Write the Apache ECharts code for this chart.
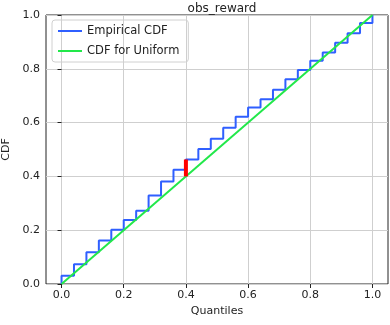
<!DOCTYPE html>
<html>
<head>
<meta charset="utf-8">
<script src="https://cdn.jsdelivr.net/npm/echarts@6/dist/echarts.min.js"></script>
<style>
  html, body { margin: 0; padding: 0; background: #fff; }
  #chart { width: 390px; height: 325px; }
</style>
</head>
<body>
<div id="chart"></div>
<script>
  // empirical cdf, one level after each quantile step
  const quantiles = [0, 0.04, 0.08, 0.12, 0.16, 0.20, 0.24, 0.28, 0.32, 0.36, 0.40, 0.44, 0.48,
    0.52, 0.56, 0.60, 0.64, 0.68, 0.72, 0.76, 0.80, 0.84, 0.88, 0.92, 0.96, 1.0]
  const ecdf = [0.031, 0.073, 0.118, 0.162, 0.202, 0.238, 0.272, 0.329, 0.381, 0.425, 0.463, 0.502, 0.540,
    0.581, 0.622, 0.656, 0.687, 0.722, 0.761, 0.796, 0.830, 0.861, 0.897, 0.932, 0.970, 1.0]
  const uniform = [[0, 0], [1, 1]]
  const maxGap = [[0.4, 0.4], [0.4, 0.463]]
  const xTicks = [0, 0.2, 0.4, 0.6, 0.8, 1.0]

  const font = 'DejaVu Sans'
  const stepData = [[0, 0]]
  quantiles.forEach((q, i) => stepData.push([q, ecdf[i]]))

  const chart = echarts.init(document.getElementById('chart'))
  chart.setOption({
    animation: false,
    title: {
      text: 'obs_reward',
      left: 217,
      textAlign: 'center',
      top: -2,
      textStyle: { fontFamily: font, fontSize: 12, fontWeight: 'normal', color: '#222' }
    },
    grid: {
      left: 46,
      right: 2,
      top: 15,
      bottom: 41,
      outerBoundsMode: 'none',
      containLabel: false,
      show: true,
      borderColor: '#222',
      borderWidth: 1
    },
    legend: {
      orient: 'vertical',
      left: 52,
      top: 20,
      padding: [5, 9, 5, 6],
      itemGap: 8,
      itemWidth: 24,
      itemHeight: 2,
      icon: 'rect',
      borderColor: '#d0d0d0',
      borderWidth: 1,
      borderRadius: 3,
      textStyle: { fontFamily: font, fontSize: 11.5, color: '#222' },
      data: ['Empirical CDF', 'CDF for Uniform']
    },
    xAxis: {
      type: 'value',
      min: -0.05,
      max: 1.05,
      name: 'Quantiles',
      nameLocation: 'middle',
      nameGap: 22,
      nameTextStyle: { fontFamily: font, fontSize: 11, color: '#222' },
      axisLine: { show: false },
      axisTick: { show: true, customValues: xTicks, length: 4, lineStyle: { color: '#222' } },
      axisLabel: {
        customValues: xTicks,
        fontFamily: font, fontSize: 11, color: '#222', margin: 6,
        formatter: v => v.toFixed(1)
      },
      splitLine: { show: true, lineStyle: { color: '#cfcfcf', width: 1 } }
    },
    yAxis: {
      type: 'value',
      min: 0,
      max: 1,
      interval: 0.2,
      name: 'CDF',
      nameLocation: 'middle',
      nameGap: 31,
      nameTextStyle: { fontFamily: font, fontSize: 11, color: '#222' },
      axisLine: { show: false },
      axisTick: { show: true, length: 4, lineStyle: { color: '#222' } },
      axisLabel: {
        fontFamily: font, fontSize: 11, color: '#222', margin: 6,
        formatter: v => v.toFixed(1)
      },
      splitLine: { show: true, lineStyle: { color: '#cfcfcf', width: 1 } }
    },
    series: [
      {
        name: 'Empirical CDF',
        type: 'line',
        step: 'end',
        symbol: 'none',
        color: '#2f5fff',
        lineStyle: { color: '#2f5fff', width: 2 },
        data: stepData,
        z: 3
      },
      {
        name: 'CDF for Uniform',
        type: 'line',
        symbol: 'none',
        color: '#22e84a',
        lineStyle: { color: '#22e84a', width: 2 },
        data: uniform,
        z: 4
      },
      {
        name: 'gap',
        type: 'line',
        symbol: 'none',
        color: '#ff0000',
        lineStyle: { color: '#ff0000', width: 4 },
        data: maxGap,
        z: 5
      }
    ]
  })
</script>
</body>
</html>
